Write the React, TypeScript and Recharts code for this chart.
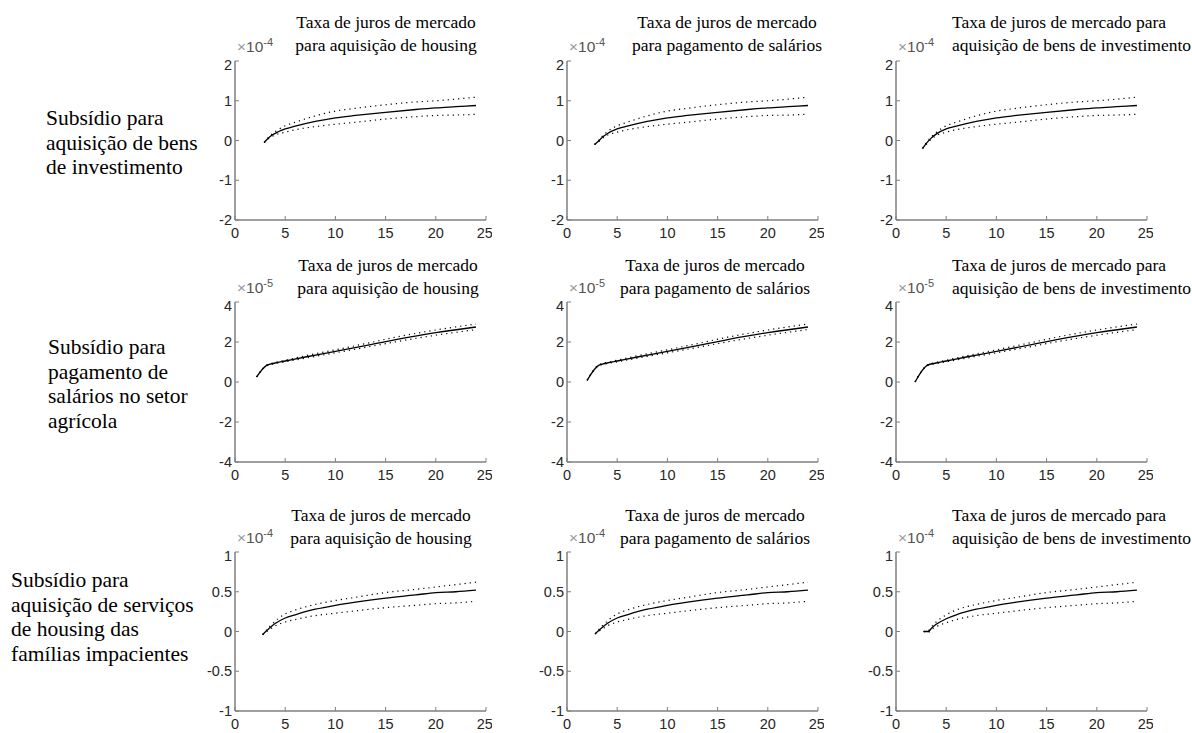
import { LineChart, Line, XAxis, YAxis } from "recharts";

// eixo x comum
const xTicks = [0, 5, 10, 15, 20, 25];

// ticks do eixo y por linha do painel
const row1Ticks = [-2, -1, 0, 1, 2];
const row2Ticks = [-4, -2, 0, 2, 4];
const row3Ticks = [-1, -0.5, 0, 0.5, 1];

const colTitles = [
  ["Taxa de juros de mercado", "para aquisição de housing"],
  ["Taxa de juros de mercado", "para pagamento de salários"],
  ["Taxa de juros de mercado para", "aquisição de bens de investimento"],
];

const rowLabels = [
  ["Subsídio para", "aquisição de bens", "de investimento"],
  ["Subsídio para", "pagamento de", "salários no setor", "agrícola"],
  ["Subsídio para", "aquisição de serviços", "de housing das", "famílias impacientes"],
];

// linha 1 (x10^-4)
const r1c1X = [2.9, 3.5, 4, 5, 6, 8, 10, 12, 15, 18, 20, 22, 24];
const r1c1Mean = [-0.05, 0.1, 0.18, 0.29, 0.36, 0.48, 0.57, 0.63, 0.71, 0.78, 0.82, 0.85, 0.88];
const r1c1Up = [-0.05, 0.12, 0.22, 0.37, 0.46, 0.62, 0.74, 0.81, 0.9, 0.97, 1.0, 1.04, 1.09];
const r1c1Lo = [-0.05, 0.07, 0.14, 0.21, 0.27, 0.35, 0.41, 0.46, 0.54, 0.6, 0.63, 0.64, 0.66];

const r1c2X = [2.75, 3.2, 3.6, 4, 5, 6, 8, 10, 12, 15, 18, 20, 22, 24];
const r1c2Mean = [-0.1, 0.0, 0.1, 0.17, 0.29, 0.36, 0.48, 0.57, 0.63, 0.71, 0.78, 0.82, 0.85, 0.88];
const r1c2Up = [-0.1, 0.02, 0.13, 0.22, 0.37, 0.46, 0.62, 0.74, 0.81, 0.9, 0.97, 1.0, 1.04, 1.09];
const r1c2Lo = [-0.1, -0.02, 0.07, 0.13, 0.21, 0.27, 0.35, 0.41, 0.46, 0.54, 0.6, 0.63, 0.64, 0.66];

const r1c3X = [2.65, 3, 3.5, 4, 5, 6, 8, 10, 12, 15, 18, 20, 22, 24];
const r1c3Mean = [-0.2, -0.08, 0.06, 0.16, 0.29, 0.36, 0.48, 0.57, 0.63, 0.71, 0.78, 0.82, 0.85, 0.88];
const r1c3Up = [-0.2, -0.06, 0.09, 0.2, 0.37, 0.46, 0.62, 0.74, 0.81, 0.9, 0.97, 1.0, 1.04, 1.09];
const r1c3Lo = [-0.2, -0.1, 0.03, 0.12, 0.21, 0.27, 0.35, 0.41, 0.46, 0.54, 0.6, 0.63, 0.64, 0.66];

// linha 2 (x10^-5)
const r2c1X = [2.15, 3.15, 4, 5, 7, 10, 13, 16, 20, 24];
const r2c1Mean = [0.25, 0.83, 0.95, 1.05, 1.25, 1.53, 1.82, 2.12, 2.47, 2.75];
const r2c1Up = [0.25, 0.85, 0.98, 1.09, 1.31, 1.61, 1.92, 2.24, 2.6, 2.9];
const r2c1Lo = [0.25, 0.81, 0.92, 1.01, 1.19, 1.46, 1.73, 2.01, 2.34, 2.62];

const r2c2X = [2.0, 3.15, 4, 5, 7, 10, 13, 16, 20, 24];
const r2c2Mean = [0.08, 0.83, 0.95, 1.05, 1.25, 1.53, 1.82, 2.12, 2.47, 2.75];
const r2c2Up = [0.08, 0.85, 0.98, 1.09, 1.31, 1.61, 1.92, 2.24, 2.6, 2.9];
const r2c2Lo = [0.08, 0.81, 0.92, 1.01, 1.19, 1.46, 1.73, 2.01, 2.34, 2.62];

const r2c3X = [1.9, 3.1, 4, 5, 7, 10, 13, 16, 20, 24];
const r2c3Mean = [0.0, 0.83, 0.95, 1.05, 1.25, 1.53, 1.82, 2.12, 2.47, 2.75];
const r2c3Up = [0.0, 0.85, 0.98, 1.09, 1.31, 1.61, 1.92, 2.24, 2.6, 2.9];
const r2c3Lo = [0.0, 0.81, 0.92, 1.01, 1.19, 1.46, 1.73, 2.01, 2.34, 2.62];

// linha 3 (x10^-4)
const r3c1X = [2.75, 3.5, 4, 5, 6, 8, 10, 12, 15, 18, 20, 22, 24];
const r3c1Mean = [-0.04, 0.05, 0.1, 0.17, 0.21, 0.28, 0.33, 0.37, 0.42, 0.46, 0.49, 0.5, 0.52];
const r3c1Up = [-0.04, 0.07, 0.13, 0.22, 0.27, 0.34, 0.39, 0.43, 0.49, 0.53, 0.56, 0.59, 0.62];
const r3c1Lo = [-0.04, 0.03, 0.07, 0.12, 0.15, 0.2, 0.23, 0.26, 0.3, 0.33, 0.35, 0.36, 0.38];

const r3c2X = [2.8, 3.5, 4, 5, 6, 8, 10, 12, 15, 18, 20, 22, 24];
const r3c2Mean = [-0.03, 0.05, 0.1, 0.17, 0.21, 0.28, 0.33, 0.37, 0.42, 0.46, 0.49, 0.5, 0.52];
const r3c2Up = [-0.03, 0.07, 0.13, 0.22, 0.27, 0.34, 0.39, 0.43, 0.49, 0.53, 0.56, 0.59, 0.62];
const r3c2Lo = [-0.03, 0.03, 0.07, 0.12, 0.15, 0.2, 0.23, 0.26, 0.3, 0.33, 0.35, 0.36, 0.38];

const r3c3X = [2.75, 3.2, 3.6, 4, 5, 6, 8, 10, 12, 15, 18, 20, 22, 24];
const r3c3Mean = [0.0, 0.0, 0.05, 0.09, 0.16, 0.21, 0.28, 0.33, 0.37, 0.42, 0.46, 0.49, 0.5, 0.52];
const r3c3Up = [0.0, 0.01, 0.07, 0.12, 0.21, 0.27, 0.34, 0.39, 0.43, 0.49, 0.53, 0.56, 0.59, 0.62];
const r3c3Lo = [0.0, -0.01, 0.03, 0.06, 0.11, 0.15, 0.2, 0.23, 0.26, 0.3, 0.33, 0.35, 0.36, 0.38];

const pts = (xs: number[], ys: number[]) => xs.map((x, i) => ({ x, y: ys[i] }));

const colLeft = [235, 567, 896];
const rowTop = [61, 302, 552];
const rowH = [159, 160, 159];
const PW = 251;

const serif = "'Liberation Serif', 'Times New Roman', 'DejaVu Serif', serif";
const sans = "'Liberation Sans', Arial, sans-serif";
const axisColor = "#7f7f7f";
const tickFont = { fill: "#262626", fontSize: 14.5, fontFamily: sans };

type PanelProps = {
  left: number;
  top: number;
  h: number;
  ticks: number[];
  exp: string;
  xs: number[];
  mean: number[];
  up: number[];
  lo: number[];
};

function Panel({ left, top, h, ticks, exp, xs, mean, up, lo }: PanelProps) {
  const dom = [ticks[0], ticks[ticks.length - 1]];
  return (
    <>
      <div style={{ position: "absolute", left: left - 45, top: top - 5 }}>
        <LineChart width={45 + PW + 6} height={5 + h + 25} margin={{ top: 5, right: 6, left: 0, bottom: 0 }}>
          <XAxis
            xAxisId="b"
            type="number"
            dataKey="x"
            domain={[0, 25]}
            ticks={xTicks}
            allowDataOverflow
            height={25}
            tickSize={-4}
            tickMargin={12}
            tick={tickFont}
            axisLine={{ stroke: axisColor, strokeWidth: 1.5 }}
            tickLine={{ stroke: axisColor }}
          />
          <XAxis
            xAxisId="t"
            orientation="top"
            type="number"
            dataKey="x"
            domain={[0, 25]}
            ticks={xTicks}
            allowDataOverflow
            height={0}
            tickSize={-4}
            tick={false}
            axisLine={{ stroke: axisColor, strokeWidth: 1.5 }}
            tickLine={{ stroke: axisColor }}
          />
          <YAxis
            yAxisId="l"
            type="number"
            domain={dom}
            ticks={ticks}
            allowDataOverflow
            width={45}
            tickSize={-4}
            tickMargin={7}
            tick={tickFont}
            axisLine={{ stroke: axisColor, strokeWidth: 1.5 }}
            tickLine={{ stroke: axisColor }}
          />
          <YAxis
            yAxisId="r"
            orientation="right"
            type="number"
            domain={dom}
            ticks={ticks}
            allowDataOverflow
            width={0}
            tickSize={-4}
            tick={false}
            axisLine={{ stroke: axisColor, strokeWidth: 1.5 }}
            tickLine={{ stroke: axisColor }}
          />
          <Line xAxisId="b" yAxisId="l" data={pts(xs, up)} dataKey="y" type="monotone" stroke="#000" strokeWidth={1.2} strokeDasharray="1.2 4" dot={false} isAnimationActive={false} />
          <Line xAxisId="b" yAxisId="l" data={pts(xs, lo)} dataKey="y" type="monotone" stroke="#000" strokeWidth={1.2} strokeDasharray="1.2 4" dot={false} isAnimationActive={false} />
          <Line xAxisId="b" yAxisId="l" data={pts(xs, mean)} dataKey="y" type="monotone" stroke="#000" strokeWidth={1.3} dot={false} isAnimationActive={false} />
        </LineChart>
      </div>
      <div
        style={{
          position: "absolute",
          left: left + 2,
          top: top - 25,
          fontFamily: sans,
          fontSize: 15.5,
          color: "#555",
          whiteSpace: "nowrap",
        }}
      >
        <span style={{ color: "#999" }}>×</span>10
        <sup style={{ fontSize: 11 }}>{exp}</sup>
      </div>
    </>
  );
}

const titleCx = [
  [386, 727, 0],
  [388, 715, 0],
  [381, 715, 0],
];

export default function App() {
  const data = [
    [
      { xs: r1c1X, mean: r1c1Mean, up: r1c1Up, lo: r1c1Lo },
      { xs: r1c2X, mean: r1c2Mean, up: r1c2Up, lo: r1c2Lo },
      { xs: r1c3X, mean: r1c3Mean, up: r1c3Up, lo: r1c3Lo },
    ],
    [
      { xs: r2c1X, mean: r2c1Mean, up: r2c1Up, lo: r2c1Lo },
      { xs: r2c2X, mean: r2c2Mean, up: r2c2Up, lo: r2c2Lo },
      { xs: r2c3X, mean: r2c3Mean, up: r2c3Up, lo: r2c3Lo },
    ],
    [
      { xs: r3c1X, mean: r3c1Mean, up: r3c1Up, lo: r3c1Lo },
      { xs: r3c2X, mean: r3c2Mean, up: r3c2Up, lo: r3c2Lo },
      { xs: r3c3X, mean: r3c3Mean, up: r3c3Up, lo: r3c3Lo },
    ],
  ];
  const rowTicks = [row1Ticks, row2Ticks, row3Ticks];
  const rowExp = ["-4", "-5", "-4"];
  const titleTop = [11, 254, 504];
  const labelPos = [
    { left: 46, top: 106 },
    { left: 48, top: 335 },
    { left: 11, top: 568 },
  ];

  return (
    <div style={{ position: "absolute", left: 0, top: 0, width: 1192, height: 733, background: "#fff" }}>
      {rowLabels.map((lines, r) => (
        <div
          key={`rl-${r}`}
          style={{
            position: "absolute",
            left: labelPos[r].left,
            top: labelPos[r].top,
            fontFamily: serif,
            fontSize: 21.5,
            lineHeight: "24.5px",
            color: "#000",
            whiteSpace: "nowrap",
          }}
        >
          {lines.map((l, i) => (
            <div key={i}>{l}</div>
          ))}
        </div>
      ))}
      {data.map((row, r) =>
        row.map((p, c) => (
          <div key={`p-${r}-${c}`}>
            <div
              style={{
                position: "absolute",
                left: c === 2 ? 952 : titleCx[r][c],
                top: titleTop[r],
                transform: c === 2 ? undefined : "translateX(-50%)",
                textAlign: c === 2 ? "left" : "center",
                fontFamily: serif,
                fontSize: 17.5,
                lineHeight: "22.5px",
                color: "#000",
                whiteSpace: "nowrap",
              }}
            >
              <div>{colTitles[c][0]}</div>
              <div>{colTitles[c][1]}</div>
            </div>
            <Panel
              left={colLeft[c]}
              top={rowTop[r]}
              h={rowH[r]}
              ticks={rowTicks[r]}
              exp={rowExp[r]}
              xs={p.xs}
              mean={p.mean}
              up={p.up}
              lo={p.lo}
            />
          </div>
        ))
      )}
    </div>
  );
}
